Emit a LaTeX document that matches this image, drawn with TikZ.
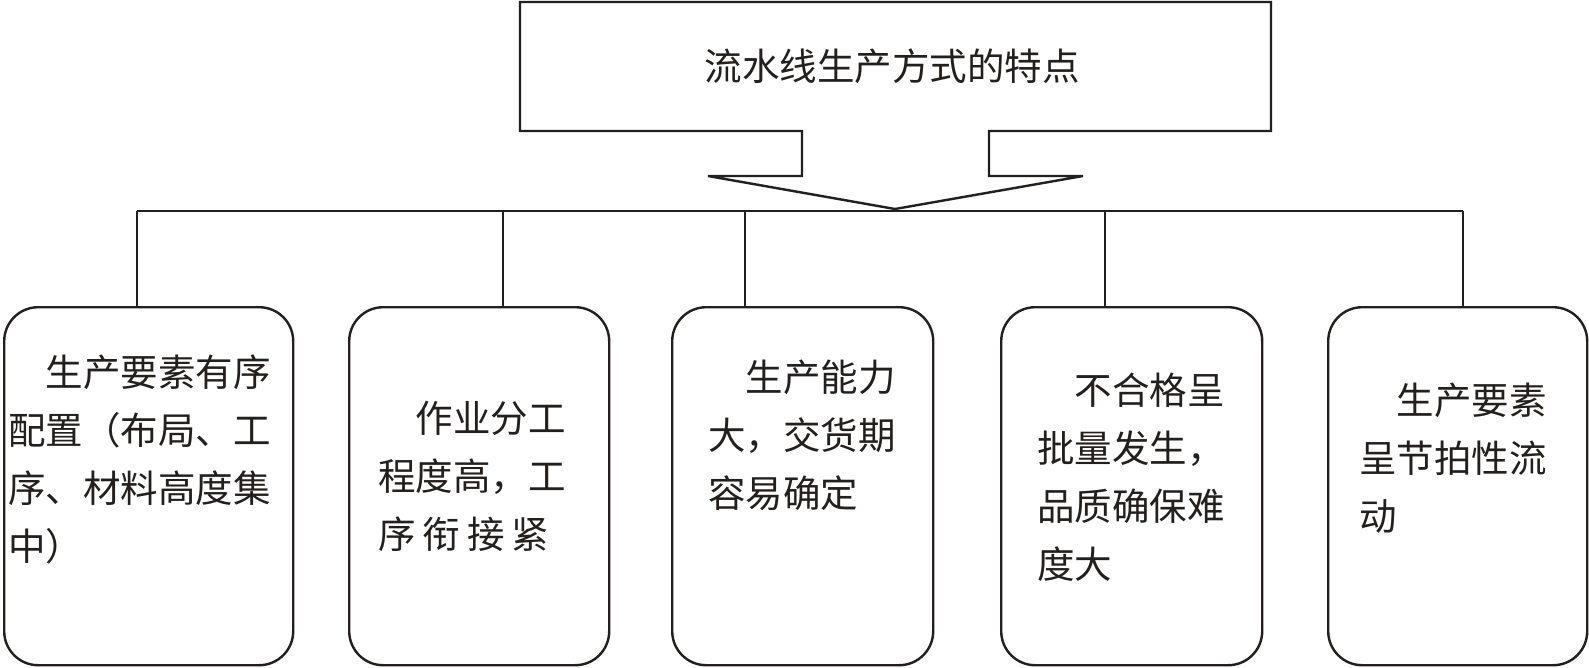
\documentclass[tikz,border=0pt]{standalone}
\usepackage{fontspec}
\newfontfamily\cjk{Noto Sans CJK SC}
\definecolor{ink}{RGB}{35,31,28}
\begin{document}
\begin{tikzpicture}[x=1pt,y=-1pt,
  box/.style={draw=ink, line width=2.4pt, rounded corners=34pt, anchor=north west, minimum height=358pt, inner sep=0pt},
  conn/.style={draw=ink, line width=1.3pt},
  head/.style={draw=ink, line width=2.4pt, line join=miter},
  txt/.style={anchor=north west, inner sep=0pt, align=left, text=ink, font=\cjk\fontsize{37.5}{58}\selectfont},
  ttl/.style={inner sep=0pt, text=ink, font=\cjk\fontsize{37.5}{58}\selectfont},
]
\useasboundingbox (0,0) rectangle (1589,667);
\fill[white] (0,0) rectangle (1589,667);

% top block arrow
\draw[head] (520,2) -- (1271,2) -- (1271,131) -- (989,131) -- (989,176) -- (1083,176)
  -- (895,209) -- (708,176) -- (802,176) -- (802,131) -- (520,131) -- cycle;
\node[ttl] (title) at (892,66) {流水线生产方式的特点};

% boxes
\node[box, minimum width=289pt] (b1) at (3,306) {};
\node[box, minimum width=260pt] (b2) at (348,306) {};
\node[box, minimum width=261pt] (b3) at (671,306) {};
\node[box, minimum width=261pt] (b4) at (1000,306) {};
\node[box, minimum width=259pt] (b5) at (1327,306) {};

% texts
\node[txt] (t1) at (8,355) {\hspace*{1em}生产要素有序\\配置（布局、工\\序、材料高度集\\中）};
\node[txt] (t2) at (378,401) {\hspace*{1em}作业分工\\程度高，工\\序\hspace{7pt}衔\hspace{7pt}接\hspace{7pt}紧};
\node[txt] (t3) at (708,360) {\hspace*{1em}生产能力\\大，交货期\\容易确定};
\node[txt] (t4) at (1037,373) {\hspace*{1em}不合格呈\\批量发生，\\品质确保难\\度大};
\node[txt] (t5) at (1359,383) {\hspace*{1em}生产要素\\呈节拍性流\\动};

% bus
\coordinate (d1) at (137,211);
\coordinate (d2) at (503,211);
\coordinate (d3) at (745,211);
\coordinate (d4) at (1105,211);
\coordinate (d5) at (1463,211);
\draw[conn] (d1) -- (d5);
\draw[conn] (d1) -- (d1 |- b1.north);
\draw[conn] (d2) -- (d2 |- b2.north);
\draw[conn] (d3) -- (d3 |- b3.north);
\draw[conn] (d4) -- (d4 |- b4.north);
\draw[conn] (d5) -- (d5 |- b5.north);
\end{tikzpicture}
\end{document}
